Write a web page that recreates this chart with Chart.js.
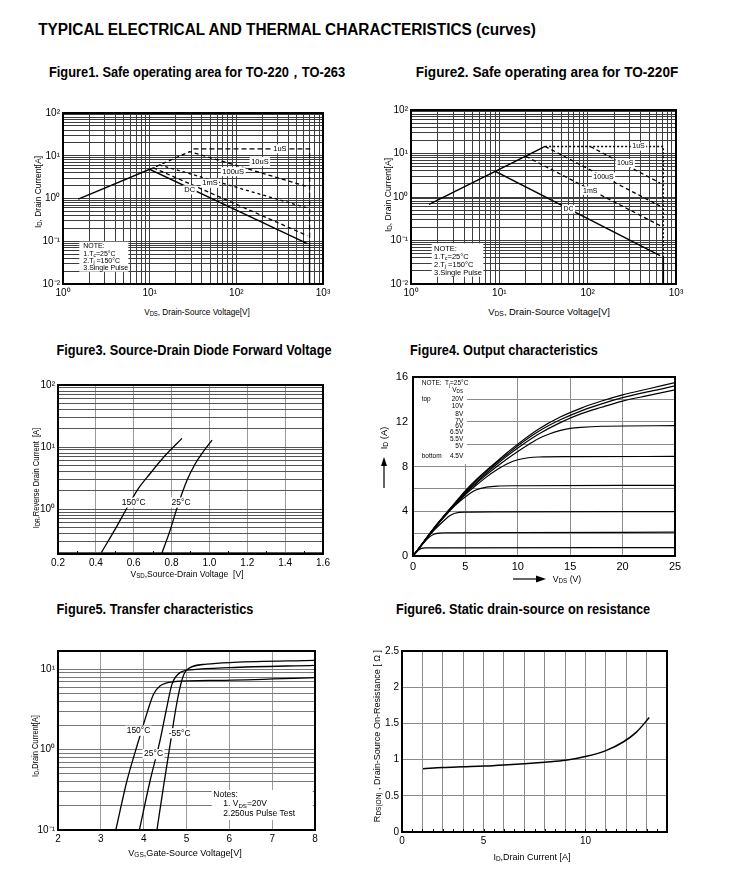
<!DOCTYPE html>
<html><head><meta charset="utf-8">
<script src="https://cdn.jsdelivr.net/npm/chart.js@4.4.1/dist/chart.umd.min.js"></script>
<style>
html,body{margin:0;padding:0;background:#fff;}
body{position:relative;width:732px;height:883px;overflow:hidden;font-family:"Liberation Sans",Arial,Helvetica,sans-serif;color:#000;}
canvas{position:absolute;z-index:1;}
.o{position:absolute;white-space:nowrap;line-height:1;z-index:2;transform-origin:50% 50%;font-size:9px;}
.b{font-weight:bold;}
sub{font-size:72%;vertical-align:-0.3em;line-height:0;}
</style></head><body>
<div class="o b" data-cx="287" data-cy="30" data-w="498" style="font-size:16px">TYPICAL ELECTRICAL AND THERMAL CHARACTERISTICS (curves)</div>
<div class="o b" data-cx="197" data-cy="72" data-w="296" style="font-size:14px">Figure1. Safe operating area for TO-220，TO-263</div>
<div class="o b" data-cx="547" data-cy="72" data-w="262" style="font-size:14px">Figure2. Safe operating area for TO-220F</div>
<div class="o b" data-cx="193.5" data-cy="349" data-w="275" style="font-size:15px">Figure3. Source-Drain Diode Forward Voltage</div>
<div class="o b" data-cx="504" data-cy="349" data-w="188" style="font-size:15px">Figure4. Output characteristics</div>
<div class="o b" data-cx="154.5" data-cy="608" data-w="197" style="font-size:15px">Figure5. Transfer characteristics</div>
<div class="o b" data-cx="523" data-cy="608" data-w="254" style="font-size:15px">Figure6. Static drain-source on resistance</div>

<div class="o" data-cx="38" data-cy="192" data-w="72" data-rot="1">I<sub>D</sub>, Drain Current[A]</div>
<div class="o" data-cx="197" data-cy="312" data-w="106">V<sub>DS</sub>, Drain-Source Voltage[V]</div>
<div class="o" data-cx="388" data-cy="195" data-w="74" data-rot="1">I<sub>D</sub>, Drain Current[A]</div>
<div class="o" data-cx="549" data-cy="312" data-w="122">V<sub>DS</sub>, Drain-Source Voltage[V]</div>
<div class="o" data-cx="36" data-cy="478" data-w="100" data-rot="1">I<sub>DR</sub>,Reverse Drain Current&nbsp; [A]</div>
<div class="o" data-cx="187" data-cy="574" data-w="113">V<sub>SD</sub>,Source-Drain Voltage&nbsp; [V]</div>
<div class="o" data-cx="384" data-cy="438" data-w="23" data-rot="1">I<sub>D</sub> (A)</div>
<div class="o" data-cx="567" data-cy="579" data-w="29">V<sub>DS</sub> (V)</div>
<div class="o" data-cx="35" data-cy="746" data-w="62" data-rot="1">I<sub>D</sub>,Drain Current[A]</div>
<div class="o" data-cx="185" data-cy="853" data-w="113">V<sub>GS</sub>,Gate-Source Voltage[V]</div>
<div class="o" data-cx="377" data-cy="736" data-w="172" data-rot="1">R<sub>DS(ON)</sub> , Drain-Source On-Resistance [ Ω ]</div>
<div class="o" data-cx="532" data-cy="857" data-w="77">I<sub>D</sub>,Drain Current [A]</div>

<script>
// ================= DATA =================
// Figure 1: SOA TO-220/TO-263  [VDS (V), ID (A)]
const fig1_dc    = [[1.5,0.97],[10,4.8],[660,0.088]];
const fig1_1ms   = [[11,5.25],[660,0.135]];
const fig1_100us = [[13,6.1],[660,0.6]];
const fig1_10us  = [[10,4.8],[29,12.5],[660,1.9]];
const fig1_1us   = [[32,14.5],[700,14.5],[700,0.088]];
const fig1_limit = [[700,0.088],[700,0.01]];
const fig1_tags  = [[318,14.5,'1uS'],[187,7.3,'10uS'],[92,4.24,'100uS'],[49.6,2.27,'1mS'],[29,1.58,'DC']];
const fig12_xTicks = [1,10,100,1000];
const fig12_yTicks = [0.01,0.1,1,10,100];

// Figure 2: SOA TO-220F
const fig2_dc    = [[1.6,0.68],[9,3.9],[660,0.045]];
const fig2_rise  = [[9,3.9],[33,14.5]];
const fig2_1ms   = [[20,8.6],[660,0.22]];
const fig2_100us = [[33,14.5],[660,0.62]];
const fig2_10us  = [[107,14.5],[660,2.1]];
const fig2_1us   = [[33,14.5],[720,14.5],[720,0.045]];
const fig2_limit = [[720,0.045],[720,0.01]];
const fig2_tags  = [[376,14.5,'1uS'],[266,5.96,'10uS'],[151,2.94,'100uS'],[107,1.40,'1mS'],[60.7,0.525,'DC']];

// Figure 3: Source-drain diode forward voltage [VSD (V), IDR (A)]
const fig3_150 = [[0.429,0.2],[0.512,0.54],[0.573,1.17],[0.626,2.18],[0.688,3.79],[0.758,6.86],[0.855,13.8]];
const fig3_25  = [[0.749,0.196],[0.793,0.465],[0.829,1.05],[0.881,2.9],[0.925,5.4],[0.961,7.95],[1.014,13]];
const fig3_tags = [[0.6,1.28,'150°C'],[0.85,1.28,'25°C']];
const fig3_yTicks = [1,10,100];

// Figure 4: Output characteristics [VDS (V), ID (A)] per VGS
const fig4_vgs = ['20V','10V','8V','7V','6V','6.5V','5.5V','5V','4.5V'];
const fig4_20V  = [[0,0],[1,1.25],[2,2.5],[3,3.65],[4,4.75],[5,5.85],[6,6.8],[7,7.65],[8,8.45],[9,9.25],[10,10.0],[12,11.35],[14,12.4],[16,13.2],[18,13.85],[20,14.4],[22.5,14.95],[25,15.5]];
const fig4_10V  = [[0,0],[1,1.25],[2,2.5],[3,3.62],[4,4.7],[5,5.75],[6,6.7],[7,7.55],[8,8.35],[9,9.1],[10,9.85],[12,11.15],[14,12.15],[16,12.95],[18,13.6],[20,14.15],[22.5,14.7],[25,15.2]];
const fig4_8V   = [[0,0],[1,1.24],[2,2.48],[3,3.6],[4,4.65],[5,5.65],[6,6.55],[7,7.4],[8,8.2],[9,8.95],[10,9.65],[12,10.9],[14,11.9],[16,12.7],[18,13.3],[20,13.85],[22.5,14.35],[25,14.85]];
const fig4_7V   = [[0,0],[1,1.23],[2,2.46],[3,3.58],[4,4.6],[5,5.6],[6,6.45],[7,7.25],[8,8.0],[9,8.7],[10,9.35],[11,9.95],[12,10.5],[13,10.9],[14,11.2],[15,11.4],[16,11.5],[18,11.6],[25,11.65]];
const fig4_6V5  = [[0,0],[1,1.22],[2,2.44],[3,3.55],[4,4.55],[5,5.5],[6,6.3],[7,7.05],[8,7.7],[9,8.25],[10,8.6],[11,8.78],[12,8.85],[15,8.88],[25,8.9]];
const fig4_6V   = [[0,0],[1,1.2],[2,2.4],[3,3.5],[4,4.5],[5,5.3],[6,5.9],[7,6.15],[8,6.25],[10,6.28],[25,6.32]];
const fig4_5V5  = [[0,0],[1,1.2],[2,2.3],[3,3.2],[3.5,3.6],[4,3.82],[5,3.92],[8,3.95],[25,3.97]];
const fig4_5V   = [[0,0],[1,1.15],[1.5,1.65],[2,1.95],[2.5,2.05],[3,2.08],[10,2.1],[25,2.13]];
const fig4_4V5  = [[0,0],[0.5,0.5],[0.8,0.68],[1.2,0.72],[3,0.73],[25,0.75]];

// Figure 5: Transfer characteristics [VGS (V), ID (A)]
const fig5_150 = [[3.35,0.1],[3.61,0.41],[3.88,1.29],[4.07,2.77],[4.23,4.9],[4.38,6.2],[4.69,7.0],[5.78,7.3],[8,7.9]];
const fig5_25  = [[3.9,0.1],[4.15,0.41],[4.38,1.29],[4.54,3.35],[4.66,6.5],[4.85,9.1],[5.16,9.9],[6,10.5],[8,11.2]];
const fig5_m55 = [[4.31,0.1],[4.46,0.34],[4.62,1.18],[4.77,3.7],[4.89,7.25],[5.0,9.8],[5.47,11.6],[6.1,12.2],[8,12.9]];
const fig5_tags = [[3.88,1.72,'150°C'],[4.23,0.88,'25°C'],[4.84,1.6,'-55°C']];
const fig5_yTicks = [0.1,1,10];

// Figure 6: Static drain-source on resistance [ID (A), RDS(on) (ohm)]
const fig6_rds = [[2.03,0.875],[3,0.89],[4,0.9],[5.03,0.91],[6,0.925],[7,0.944],[8,0.965],[9.03,0.99],[10.05,1.045],[11.03,1.128],[11.85,1.243],[12.5,1.38],[13.13,1.58]];
const fig6_xTickLabels = [[1,'0'],[5,'5'],[10,'10']];

// ================= HELPERS =================
const FAM = '"Liberation Sans", Arial, Helvetica, sans-serif';
Chart.defaults.font.family = FAM;
Chart.defaults.color = '#000';

document.querySelectorAll('.o').forEach(el=>{
  const cx=+el.dataset.cx, cy=+el.dataset.cy, w=+el.dataset.w, rot=el.dataset.rot?' rotate(-90deg)':'';
  el.style.left=cx+'px'; el.style.top=cy+'px';
  const nat=el.offsetWidth; const k = w? w/nat : 1;
  el.style.transform='translate(-50%,-50%)'+rot+' scaleX('+k+')';
});

function sup(n){const m={'0':'⁰','1':'¹','2':'²','3':'³','4':'⁴','5':'⁵','6':'⁶','7':'⁷','8':'⁸','9':'⁹','-':'⁻'};return String(n).split('').map(c=>m[c]).join('');}
function powLabel(v){return '10'+sup(Math.round(Math.log10(v)));}
function logGrid(min,max){const out=[];for(let e=Math.floor(Math.log10(min))-1;e<=Math.ceil(Math.log10(max));e++){for(let s=1;s<10;s++){const v=+(s*Math.pow(10,e)).toPrecision(8);if(v>=min*(1-1e-9)&&v<=max*(1+1e-9))out.push(v);}}return out;}
function pts(p){return p.map(([x,y])=>({x,y}));}
function ds(p,o){return Object.assign({data:pts(p),showLine:true,pointRadius:0,borderColor:'#000',borderWidth:1.3,fill:false,tension:0},o||{});}
function logAxis(min,max,labeled,grid,fs){
  return {type:'logarithmic',min,max,
    afterBuildTicks:s=>{s.ticks=logGrid(min,max).map(v=>({value:v}));},
    ticks:{autoSkip:false,maxRotation:0,padding:3,font:{size:fs},color:'#000',
      callback:v=>labeled.some(l=>Math.abs(l-v)/l<1e-6)?powLabel(v):''},
    grid:{color:grid,lineWidth:1,drawTicks:false},border:{display:false}};
}
function linAxis(min,max,step,cb,grid,fs,pad){
  return {type:'linear',min,max,ticks:{stepSize:step,autoSkip:false,maxRotation:0,padding:pad||3,font:{size:fs},color:'#000',callback:cb},
    grid:{color:grid,lineWidth:1,drawTicks:false},border:{display:false}};
}
function drawRuns(ctx,runs,x,y,size,align){
  const parts=runs.map(([t,m])=>{const fs=m?size*0.72:size;ctx.font=fs+'px '+FAM;return {t,m,fs,w:ctx.measureText(t).width};});
  const total=parts.reduce((a,p)=>a+p.w,0);
  let cx=align==='right'?x-total:align==='center'?x-total/2:x;
  ctx.textBaseline='middle';ctx.textAlign='left';ctx.fillStyle='#000';
  parts.forEach(p=>{ctx.font=p.fs+'px '+FAM;const dy=p.m==='sub'?size*0.3:p.m==='sup'?-size*0.35:0;ctx.fillText(p.t,cx,y+dy);cx+=p.w;});
}
function decoPlugin(d){return {id:'deco',
  beforeDatasetsDraw(ch){const ctx=ch.ctx,ca=ch.chartArea;ctx.save();ctx.fillStyle='#fff';
    (d.boxes||[]).forEach(b=>ctx.fillRect(ca.left+b[0],ca.top+b[1],b[2],b[3]));ctx.restore();},
  afterDatasetsDraw(ch){const ctx=ch.ctx,ca=ch.chartArea,sx=ch.scales.x,sy=ch.scales.y;ctx.save();
    (d.text||[]).forEach(t=>drawRuns(ctx,t.r,ca.left+t.dx,ca.top+t.dy,t.s||d.ts,t.a||'left'));
    if(d.tags){ctx.font=d.tagSize+'px '+FAM;ctx.textBaseline='middle';ctx.textAlign='center';
      d.tags.forEach(([x,y,s])=>{const px=sx.getPixelForValue(x),py=sy.getPixelForValue(y);const w=ctx.measureText(s).width;
        ctx.fillStyle='#fff';ctx.fillRect(px-w/2-1.5,py-d.tagSize*0.6,w+3,d.tagSize*1.2);ctx.fillStyle='#000';ctx.fillText(s,px,py);});}
    if(d.minor){const m=d.minor;ctx.strokeStyle='#000';ctx.lineWidth=1;
      for(let v=m.from;v<=m.to+1e-9;v+=m.step){const px=Math.round(sx.getPixelForValue(v))+0.5;ctx.beginPath();ctx.moveTo(px,ca.bottom);ctx.lineTo(px,ca.bottom-m.len);ctx.stroke();}}
    if(d.arrows){ctx.strokeStyle='#000';ctx.fillStyle='#000';ctx.lineWidth=1.2;
      const ax=ca.left-29;ctx.beginPath();ctx.moveTo(ax,ca.top+111);ctx.lineTo(ax,ca.top+87);ctx.stroke();
      ctx.beginPath();ctx.moveTo(ax,ca.top+80);ctx.lineTo(ax-3,ca.top+89);ctx.lineTo(ax+3,ca.top+89);ctx.closePath();ctx.fill();
      const ay=ca.bottom+23;ctx.beginPath();ctx.moveTo(ca.left+100,ay);ctx.lineTo(ca.left+125,ay);ctx.stroke();
      ctx.beginPath();ctx.moveTo(ca.left+133,ay);ctx.lineTo(ca.left+123,ay-3.5);ctx.lineTo(ca.left+123,ay+3.5);ctx.closePath();ctx.fill();}
    ctx.restore();},
  afterDraw(ch){const ctx=ch.ctx,ca=ch.chartArea;ctx.save();ctx.strokeStyle='#000';ctx.lineWidth=2;
    ctx.strokeRect(ca.left,ca.top,ca.right-ca.left,ca.bottom-ca.top);ctx.restore();}
};}
function makeChart(rect,m,datasets,xs,ys,deco){
  const c=document.createElement('canvas');
  const W=rect.w+m.l+m.r,H=rect.h+m.t+m.b;
  c.width=W;c.height=H;
  Object.assign(c.style,{left:(rect.x-m.l)+'px',top:(rect.y-m.t)+'px',width:W+'px',height:H+'px'});
  document.body.appendChild(c);
  xs.afterFit=s=>{s.height=m.b;s.paddingLeft=0;s.paddingRight=0;};
  ys.afterFit=s=>{s.width=m.l;s.paddingTop=0;s.paddingBottom=0;};
  return new Chart(c,{type:'scatter',data:{datasets},
    options:{responsive:false,animation:false,devicePixelRatio:1,events:[],
      layout:{padding:{top:m.t,right:m.r,left:0,bottom:0}},
      plugins:{legend:{display:false},tooltip:{enabled:false}},
      scales:{x:xs,y:ys}},
    plugins:[decoPlugin(deco)]});
}
const M = {l:45,r:12,t:10,b:22};

// ================= FIGURE 1 =================
makeChart({x:63,y:113,w:260,h:171},M,[
  ds(fig1_dc,{borderWidth:1.4}),
  ds(fig1_1ms,{borderDash:[4,3]}),
  ds(fig1_100us,{borderDash:[3,3]}),
  ds(fig1_10us,{borderDash:[4,3]}),
  ds(fig1_1us,{borderDash:[5,3]}),
  ds(fig1_limit,{borderWidth:1.4})
], logAxis(1,1000,fig12_xTicks,'#3c3c3c',10), logAxis(0.01,100,fig12_yTicks,'#3c3c3c',10),
{boxes:[[16.3,128.7,49,30]],ts:7,tagSize:7.5,tags:fig1_tags,
 text:[{dx:20.3,dy:132.7,r:[['NOTE:']]},{dx:20.3,dy:141,r:[['1.T'],['c','sub'],['=25°C']]},{dx:20.3,dy:148,r:[['2.T'],['j','sub'],[' =150°C']]},{dx:20.3,dy:155.5,r:[['3.Single Pulse']]}]});

// ================= FIGURE 2 =================
makeChart({x:411,y:110,w:265,h:174},M,[
  ds(fig2_dc,{borderWidth:1.4}),
  ds(fig2_rise,{borderWidth:1.4}),
  ds(fig2_1ms,{borderDash:[4,3]}),
  ds(fig2_100us,{borderDash:[4,3]}),
  ds(fig2_10us,{borderDash:[4,3]}),
  ds(fig2_1us,{borderDash:[2,2]}),
  ds(fig2_limit,{borderWidth:1.4})
], logAxis(1,1000,fig12_xTicks,'#3c3c3c',10), logAxis(0.01,100,fig12_yTicks,'#3c3c3c',10),
{boxes:[[20.7,133.3,51.6,33.4]],ts:7.5,tagSize:7,tags:fig2_tags,
 text:[{dx:23,dy:138.5,r:[['NOTE:']]},{dx:23,dy:146.5,r:[['1.T'],['c','sub'],['=25°C']]},{dx:23,dy:154.5,r:[['2.T'],['j','sub'],[' =150°C']]},{dx:23,dy:162.5,r:[['3.Single Pulse']]}]});

// ================= FIGURE 3 =================
makeChart({x:58,y:385,w:265,h:169},M,[
  ds(fig3_150,{cubicInterpolationMode:'monotone'}),
  ds(fig3_25,{cubicInterpolationMode:'monotone'})
], linAxis(0.2,1.6,0.2,v=>v.toFixed(1),'#9a9a9a',10), logAxis(0.19,100,fig3_yTicks,'#555',10),
{tagSize:8.5,tags:fig3_tags,minor:{from:0.3,to:1.5,step:0.2,len:3}});

// ================= FIGURE 4 =================
const f4ts=6.5;
makeChart({x:413,y:377,w:262,h:179},{l:45,r:12,t:10,b:32},[
  ds(fig4_20V,{cubicInterpolationMode:'monotone',borderWidth:1.2}),
  ds(fig4_10V,{cubicInterpolationMode:'monotone',borderWidth:1.2}),
  ds(fig4_8V,{cubicInterpolationMode:'monotone',borderWidth:1.2}),
  ds(fig4_7V,{cubicInterpolationMode:'monotone',borderWidth:1.2}),
  ds(fig4_6V5,{cubicInterpolationMode:'monotone',borderWidth:1.2}),
  ds(fig4_6V,{cubicInterpolationMode:'monotone',borderWidth:1.2}),
  ds(fig4_5V5,{cubicInterpolationMode:'monotone',borderWidth:1.2}),
  ds(fig4_5V,{cubicInterpolationMode:'monotone',borderWidth:1.2}),
  ds(fig4_4V5,{cubicInterpolationMode:'monotone',borderWidth:1.2})
], linAxis(0,25,5,v=>String(v),'#8a8a8a',11,4), linAxis(0,16,2,v=>v%4===0?String(v):'','#8a8a8a',11,5),
{boxes:[[0,0,54,87]],ts:f4ts,arrows:true,
 text:[{dx:8.7,dy:6.3,r:[['NOTE:']]},{dx:32,dy:6.3,r:[['T'],['j','sub'],['=25°C']]},{dx:50,dy:13,r:[['V'],['DS','sub']],a:'right'},
   {dx:8.7,dy:22,r:[['top']]},{dx:8.7,dy:79.7,r:[['bottom']]}].concat(
   fig4_vgs.map((s,i)=>({dx:50.3,dy:[22,29.7,37.3,44.7,49.7,55.3,62,69.7,79.7][i],r:[[s]],a:'right'})))});

// ================= FIGURE 5 =================
makeChart({x:58,y:651,w:257,h:179},M,[
  ds(fig5_150,{cubicInterpolationMode:'monotone'}),
  ds(fig5_25,{cubicInterpolationMode:'monotone'}),
  ds(fig5_m55,{cubicInterpolationMode:'monotone'})
], linAxis(2,8,1,v=>String(v),'#9a9a9a',10), logAxis(0.1,16.9,fig5_yTicks,'#777',10),
{boxes:[[153.7,139,101,30]],ts:8.5,tagSize:8.5,tags:fig5_tags,
 text:[{dx:155.3,dy:143.3,r:[['Notes:']]},{dx:165.3,dy:152.3,r:[['1. V'],['DS','sub'],['=20V']]},{dx:165.3,dy:162.3,r:[['2.250us Pulse Test']]}]});

// ================= FIGURE 6 =================
makeChart({x:402,y:651,w:265,h:181},M,[
  ds(fig6_rds,{cubicInterpolationMode:'monotone',borderWidth:1.5})
], linAxis(1,14,1,v=>{const f=fig6_xTickLabels.find(p=>p[0]===v);return f?f[1]:'';},'#8a8a8a',10),
   linAxis(0,2.5,0.5,v=>String(v),'#8a8a8a',10),
{minor:{from:1.5,to:13.5,step:0.5,len:3}});
</script>
</body></html>
